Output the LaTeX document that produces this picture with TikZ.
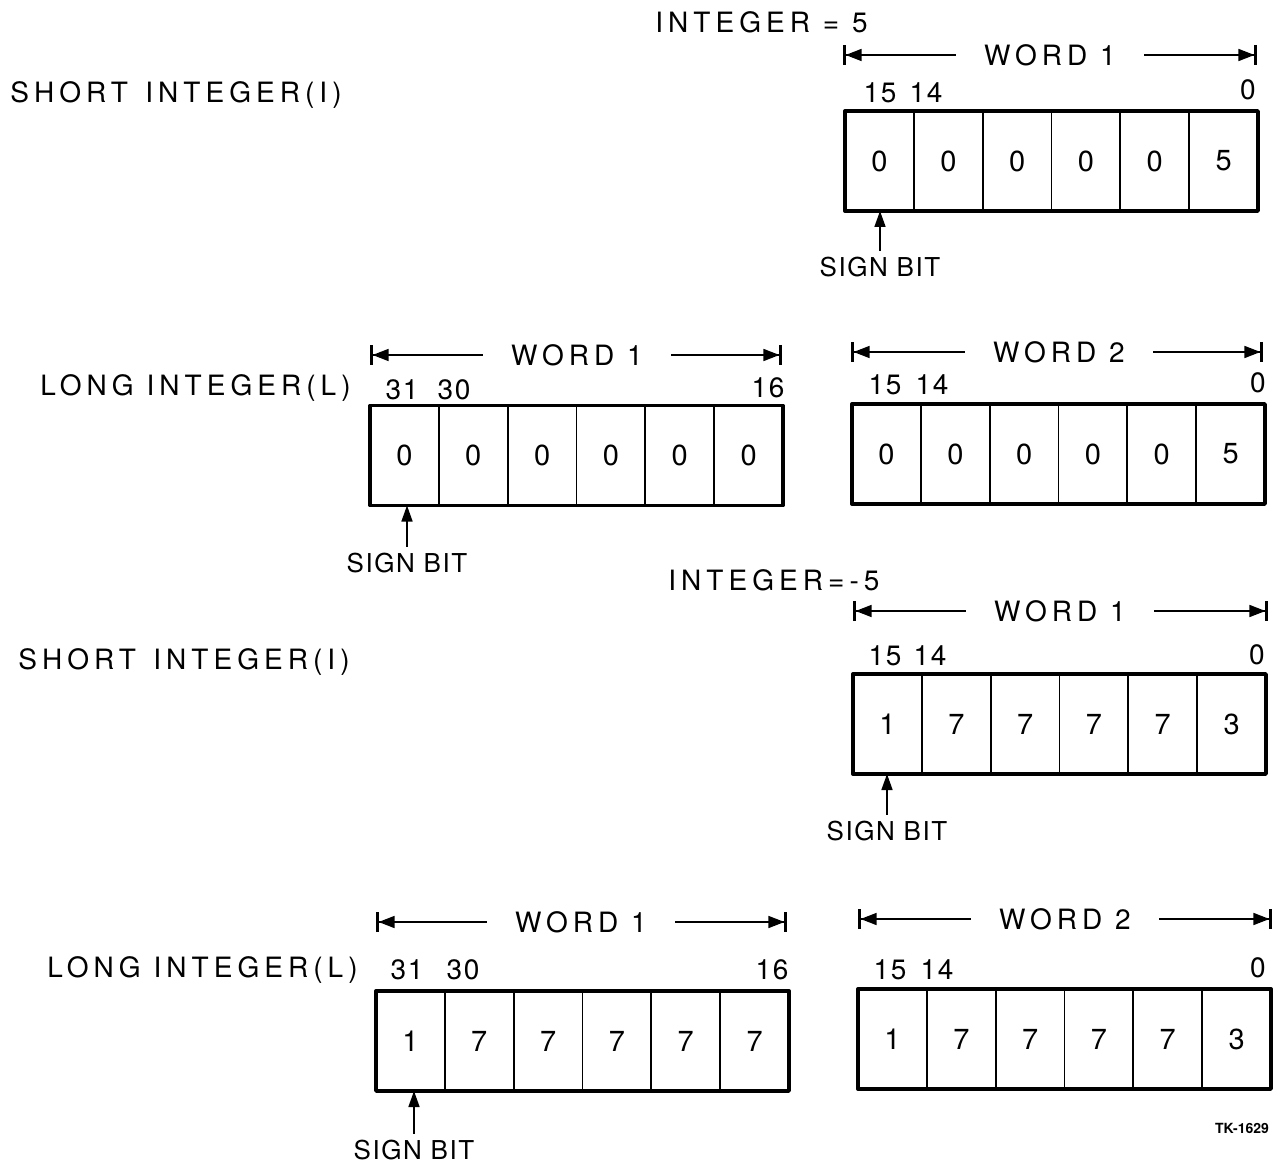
\documentclass[tikz,border=0pt]{standalone}
\usepackage{fontspec}
\setmainfont{TeX Gyre Heros}
\newfontfamily\widefont[LetterSpace=18]{TeX Gyre Heros}
\newfontfamily\midfont[LetterSpace=6]{TeX Gyre Heros}
\usetikzlibrary{arrows.meta}

\begin{document}
\begin{tikzpicture}[x=0.5pt,y=-0.5pt]
\tikzset{
  bitcell/.style={draw=black,line width=0.9pt,minimum width=34.4pt,minimum height=50pt,inner sep=0pt,outer sep=0pt,font=\fontsize{14.5}{16}\selectfont},
  wordframe/.style={draw=black,line width=1.7pt,line join=round},
  rowlabel/.style={anchor=west,inner sep=0pt,font=\widefont\fontsize{14}{16}\selectfont},
  wordlabel/.style={inner xsep=14pt,inner ysep=0pt,font=\widefont\fontsize{14}{16}\selectfont},
  bitlabel/.style={inner sep=0pt,font=\midfont\fontsize{14}{16}\selectfont},
  signlabel/.style={inner sep=3pt,font=\midfont\fontsize{13}{15}\selectfont},
  wordarrow/.style={draw=black,line width=0.8pt,-{Triangle[length=8pt,width=6pt]Bar[width=10pt,line width=1.3pt]}},
  signarrow/.style={draw=black,line width=0.8pt,-{Triangle[length=8pt,width=5.5pt]}}
}
\useasboundingbox (0,0) rectangle (1273,1165);

% ---- short integer, +5
\node[rowlabel] (n_int1) at (655,22) {INTEGER = 5};
\node[rowlabel] (n_sh1) at (10,95) {SHORT\, INTEGER(I)};
\node[wordlabel] (w_s1) at (1050,55) {WORD 1};
\coordinate (w_s1l) at (843,55);
\coordinate (w_s1r) at (1257,55);
\draw[wordarrow] (w_s1.west) -- (w_s1l);
\draw[wordarrow] (w_s1.east) -- (w_s1r);
\node[bitlabel] (b_s1a) at (880,93) {15};
\node[bitlabel] (b_s1b) at (926,93) {14};
\node[bitlabel] (b_s1c) at (1248,90) {0};
\node[bitcell] (s1c1) at (879.4,161) {0};
\node[bitcell] (s1c2) at (948.3,161) {0};
\node[bitcell] (s1c3) at (1017.1,161) {0};
\node[bitcell] (s1c4) at (1085.9,161) {0};
\node[bitcell] (s1c5) at (1154.7,161) {0};
\node[bitcell] (s1c6) at (1223.6,161) {5};
\draw[wordframe] (s1c1.north west) rectangle (s1c6.south east);
\node[signlabel] (sg_s1) at (880,267) {SIGN BIT};
\draw[signarrow] (sg_s1.north) -- (sg_s1.north |- s1c1.south);

% ---- long integer, +5
\node[rowlabel] (n_lg1) at (40,388) {LONG INTEGER(L)};
\node[wordlabel] (w_l1a) at (577,355) {WORD 1};
\coordinate (w_l1al) at (370,355);
\coordinate (w_l1ar) at (782,355);
\draw[wordarrow] (w_l1a.west) -- (w_l1al);
\draw[wordarrow] (w_l1a.east) -- (w_l1ar);
\node[wordlabel] (w_l1b) at (1059,352) {WORD 2};
\coordinate (w_l1bl) at (851,352);
\coordinate (w_l1br) at (1263,352);
\draw[wordarrow] (w_l1b.west) -- (w_l1bl);
\draw[wordarrow] (w_l1b.east) -- (w_l1br);
\node[bitlabel] (b_l1a) at (402,390) {31};
\node[bitlabel] (b_l1b) at (454,390) {30};
\node[bitlabel] (b_l1c) at (768,388) {16};
\node[bitlabel] (b_l1d) at (885,385) {15};
\node[bitlabel] (b_l1e) at (932,385) {14};
\node[bitlabel] (b_l1f) at (1258,383) {0};
\node[bitcell] (l1a1) at (404.4,455.5) {0};
\node[bitcell] (l1a2) at (473.3,455.5) {0};
\node[bitcell] (l1a3) at (542.1,455.5) {0};
\node[bitcell] (l1a4) at (610.9,455.5) {0};
\node[bitcell] (l1a5) at (679.7,455.5) {0};
\node[bitcell] (l1a6) at (748.6,455.5) {0};
\draw[wordframe] (l1a1.north west) rectangle (l1a6.south east);
\node[bitcell] (l1b1) at (886.4,454) {0};
\node[bitcell] (l1b2) at (955.3,454) {0};
\node[bitcell] (l1b3) at (1024.1,454) {0};
\node[bitcell] (l1b4) at (1092.9,454) {0};
\node[bitcell] (l1b5) at (1161.7,454) {0};
\node[bitcell] (l1b6) at (1230.6,454) {5};
\draw[wordframe] (l1b1.north west) rectangle (l1b6.south east);
\node[signlabel] (sg_l1) at (407,563) {SIGN BIT};
\draw[signarrow] (sg_l1.north) -- (sg_l1.north |- l1a1.south);

% ---- short integer, -5
\node[rowlabel] (n_int2) at (668,580) {INTEGER=-5};
\node[rowlabel] (n_sh2) at (18,662) {SHORT\, INTEGER(I)};
\node[wordlabel] (w_s2) at (1060,611) {WORD 1};
\coordinate (w_s2l) at (853,611);
\coordinate (w_s2r) at (1268,611);
\draw[wordarrow] (w_s2.west) -- (w_s2l);
\draw[wordarrow] (w_s2.east) -- (w_s2r);
\node[bitlabel] (b_s2a) at (885,656) {15};
\node[bitlabel] (b_s2b) at (930,656) {14};
\node[bitlabel] (b_s2c) at (1257,655) {0};
\node[bitcell] (s2c1) at (887.4,724) {1};
\node[bitcell] (s2c2) at (956.3,724) {7};
\node[bitcell] (s2c3) at (1025.1,724) {7};
\node[bitcell] (s2c4) at (1093.9,724) {7};
\node[bitcell] (s2c5) at (1162.7,724) {7};
\node[bitcell] (s2c6) at (1231.6,724) {3};
\draw[wordframe] (s2c1.north west) rectangle (s2c6.south east);
\node[signlabel] (sg_s2) at (887,831) {SIGN BIT};
\draw[signarrow] (sg_s2.north) -- (sg_s2.north |- s2c1.south);

% ---- long integer, -5
\node[rowlabel] (n_lg2) at (47,970) {LONG INTEGER(L)};
\node[wordlabel] (w_l2a) at (581,922) {WORD 1};
\coordinate (w_l2al) at (376,922);
\coordinate (w_l2ar) at (787,922);
\draw[wordarrow] (w_l2a.west) -- (w_l2al);
\draw[wordarrow] (w_l2a.east) -- (w_l2ar);
\node[wordlabel] (w_l2b) at (1065,919) {WORD 2};
\coordinate (w_l2bl) at (858,919);
\coordinate (w_l2br) at (1272,919);
\draw[wordarrow] (w_l2b.west) -- (w_l2bl);
\draw[wordarrow] (w_l2b.east) -- (w_l2br);
\node[bitlabel] (b_l2a) at (407,970) {31};
\node[bitlabel] (b_l2b) at (463,970) {30};
\node[bitlabel] (b_l2c) at (772,970) {16};
\node[bitlabel] (b_l2d) at (890,970) {15};
\node[bitlabel] (b_l2e) at (937,970) {14};
\node[bitlabel] (b_l2f) at (1258,968) {0};
\node[bitcell] (l2a1) at (410.4,1041) {1};
\node[bitcell] (l2a2) at (479.3,1041) {7};
\node[bitcell] (l2a3) at (548.1,1041) {7};
\node[bitcell] (l2a4) at (616.9,1041) {7};
\node[bitcell] (l2a5) at (685.7,1041) {7};
\node[bitcell] (l2a6) at (754.6,1041) {7};
\draw[wordframe] (l2a1.north west) rectangle (l2a6.south east);
\node[bitcell] (l2b1) at (892.4,1039) {1};
\node[bitcell] (l2b2) at (961.3,1039) {7};
\node[bitcell] (l2b3) at (1030.1,1039) {7};
\node[bitcell] (l2b4) at (1098.9,1039) {7};
\node[bitcell] (l2b5) at (1167.7,1039) {7};
\node[bitcell] (l2b6) at (1236.6,1039) {3};
\draw[wordframe] (l2b1.north west) rectangle (l2b6.south east);
\node[signlabel] (sg_l2) at (414,1150) {SIGN BIT};
\draw[signarrow] (sg_l2.north) -- (sg_l2.north |- l2a1.south);

\node[inner sep=0pt,font=\bfseries\fontsize{7}{8}\selectfont] (n_tk) at (1242,1128) {TK-1629};
\end{tikzpicture}
\end{document}
